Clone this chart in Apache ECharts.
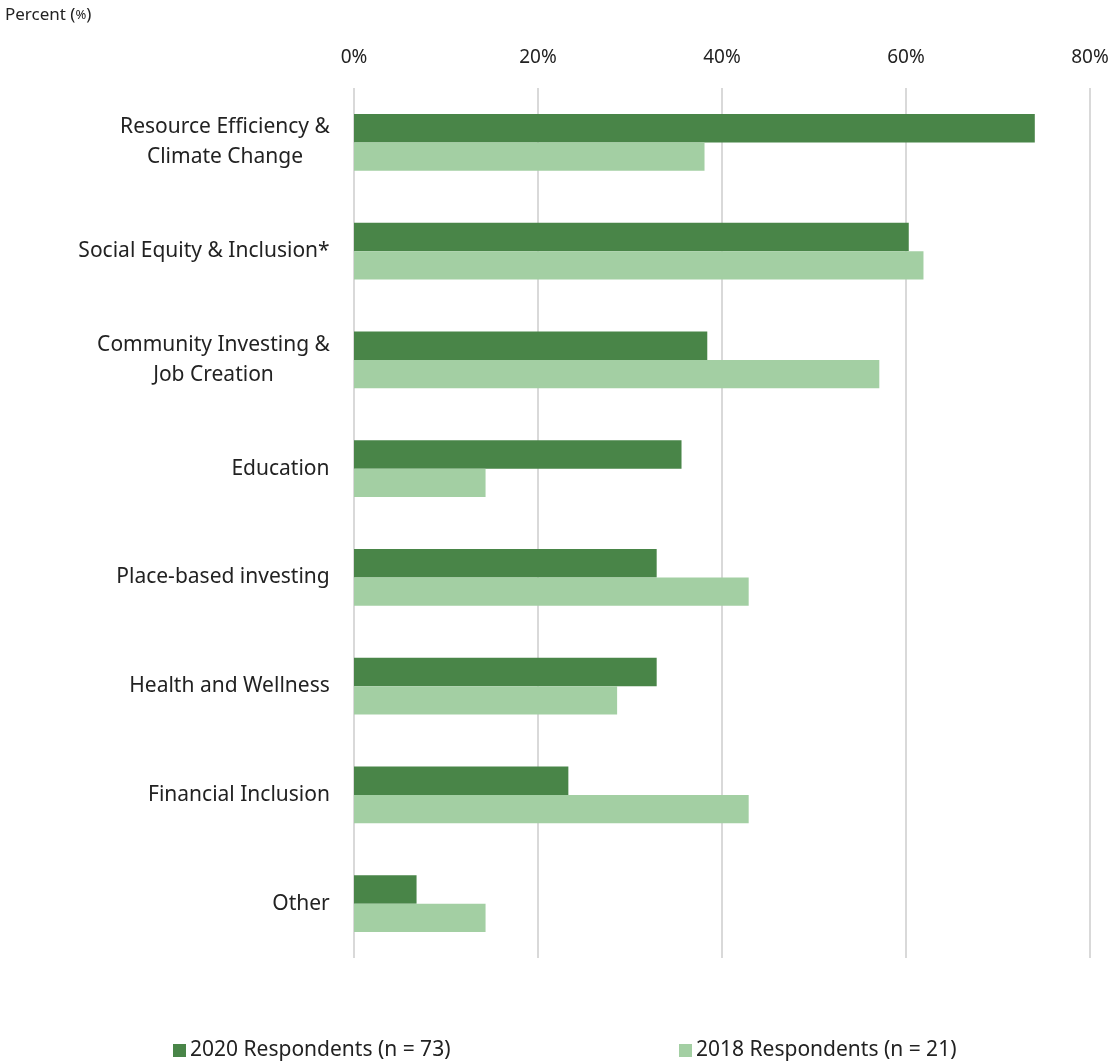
<!DOCTYPE html>
<html>
<head>
<meta charset="utf-8">
<script src="https://cdn.jsdelivr.net/npm/echarts@6/dist/echarts.min.js"></script>
<style>
  html, body { margin: 0; padding: 0; background: #fff; }
  #chart { width: 1114px; height: 1064px; }
</style>
</head>
<body>
<div id="chart"></div>
<script>
// Impact themes (top to bottom)
const categories = [
  'Resource Efficiency &\nClimate Change',
  'Social Equity & Inclusion*',
  'Community Investing &\nJob Creation',
  'Education',
  'Place-based investing',
  'Health and Wellness',
  'Financial Inclusion',
  'Other'
];
// Share of respondents, percent
const values2020 = [74.0, 60.3, 38.4, 35.6, 32.9, 32.9, 23.3, 6.8];
const values2018 = [38.1, 61.9, 57.1, 14.3, 42.9, 28.6, 42.9, 14.3];
const seriesNames = ['2020 Respondents (n = 73)', '2018 Respondents (n = 21)'];
const tickValues = [0, 20, 40, 60, 80];

const FONT = 'Noto Sans';
const LABEL_SIZE = 21;

// Measure label lines so multi-line labels can be centred within their own block
const ctx = document.createElement('canvas').getContext('2d');
ctx.font = LABEL_SIZE + 'px "' + FONT + '"';
const labelWidths = categories.map(c =>
  Math.ceil(Math.max(...c.split('\n').map(s => ctx.measureText(s).width)))
);
const labelRich = {};
categories.forEach((c, i) => {
  labelRich['l' + i] = {
    width: labelWidths[i], align: 'center',
    fontFamily: FONT, fontSize: LABEL_SIZE, color: '#222', lineHeight: 30
  };
});

const chart = echarts.init(document.getElementById('chart'), null, { renderer: 'canvas' });

const legendText = { fontFamily: FONT, fontSize: 21, color: '#222', padding: [0, 0, 0, -1] };

chart.setOption({
  animation: false,
  backgroundColor: '#ffffff',
  textStyle: { fontFamily: FONT },
  title: {
    text: 'Percent ({s|%})',
    left: 0, top: 2,
    textStyle: {
      fontFamily: FONT, fontSize: 17, fontWeight: 'normal', color: '#222',
      rich: { s: { fontFamily: FONT, fontSize: 13, color: '#222' } }
    }
  },
  legend: [
    {
      data: [seriesNames[0]],
      left: 173, top: 1040, padding: 0,
      itemWidth: 13, itemHeight: 13, itemGap: 0,
      icon: 'rect',
      textStyle: legendText
    },
    {
      data: [seriesNames[1]],
      left: 679, top: 1040, padding: 0,
      itemWidth: 13, itemHeight: 13, itemGap: 0,
      icon: 'rect',
      textStyle: legendText
    }
  ],
  grid: { left: 354, right: 24, top: 88, bottom: 106, containLabel: false },
  xAxis: {
    type: 'value',
    position: 'top',
    min: 0, max: 80, interval: 20,
    axisLine: { show: false },
    axisTick: { show: false },
    axisLabel: {
      formatter: v => tickValues.includes(v) ? v + '%' : '',
      fontFamily: FONT, fontSize: 19, color: '#222', margin: 21
    },
    splitLine: { show: true, lineStyle: { color: '#d9d9d9', width: 2 } }
  },
  yAxis: {
    type: 'category',
    data: categories,
    inverse: true,
    axisLine: { show: false },
    axisTick: { show: false },
    axisLabel: {
      formatter: (v, i) => '{l' + i + '|' + v + '}',
      rich: labelRich,
      margin: 24
    }
  },
  series: [
    {
      name: seriesNames[0], type: 'bar', data: values2020,
      itemStyle: { color: '#498548' },
      barWidth: '26%', barGap: '0%', barCategoryGap: '48%'
    },
    {
      name: seriesNames[1], type: 'bar', data: values2018,
      itemStyle: { color: '#a3cfa3' },
      barWidth: '26%', barGap: '0%'
    }
  ]
});
</script>
</body>
</html>
